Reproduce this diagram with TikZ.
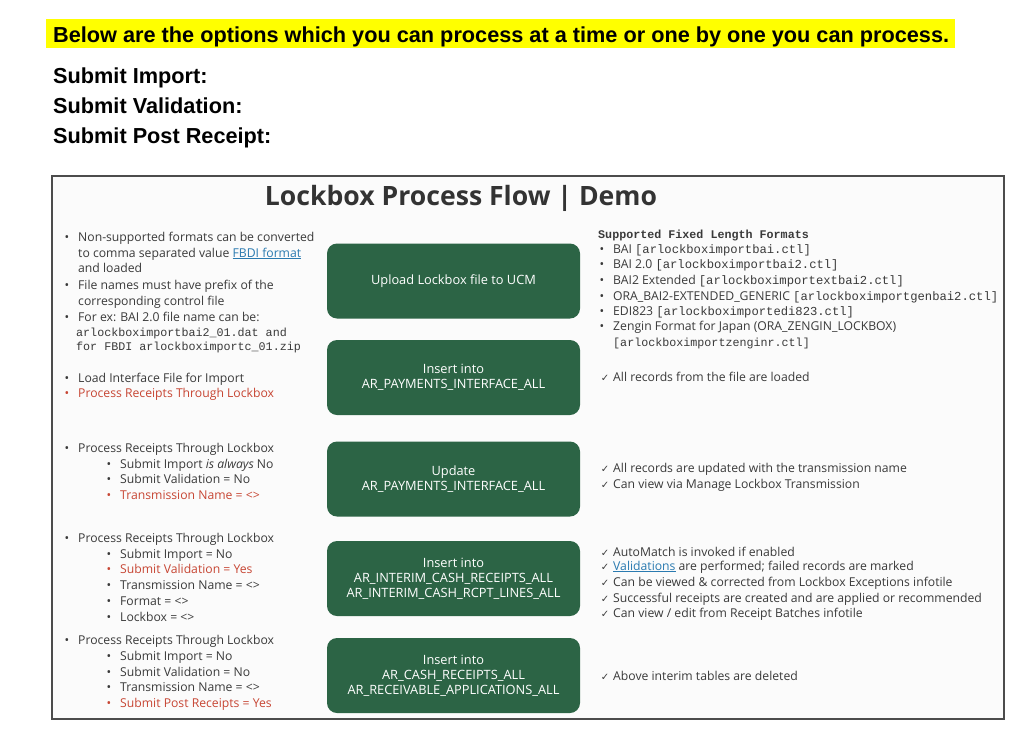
\documentclass[tikz,border=0pt]{standalone}
\usepackage{fontspec}
\setmainfont{Open Sans}
\setmonofont{Liberation Mono}
\newfontfamily\headfont{Liberation Sans}
\newfontfamily\symfont{DejaVu Sans}
\usetikzlibrary{positioning}

\definecolor{ink}{HTML}{3A3A3A}
\definecolor{oraRed}{HTML}{C74634}
\definecolor{boxGreen}{HTML}{2C6445}
\definecolor{linkBlue}{HTML}{2A7AB0}
\definecolor{hilite}{HTML}{FFFF00}
\definecolor{slideBg}{HTML}{FBFBFB}

\newcommand{\bul}{\llap{\textbullet\hspace{9pt}}}
\newcommand{\chk}{\llap{{\symfont\fontsize{10}{10}\selectfont ✓}\hspace{4pt}}}
\newcommand{\lnk}[1]{\textcolor{linkBlue}{\underline{#1}}}

\begin{document}
\begin{tikzpicture}[
  x=1pt, y=-1pt,
  txt/.style={anchor=base west, inner sep=0pt, text=ink, font=\fontsize{12.2}{14}\selectfont},
  red/.style={txt, text=oraRed},
  mono/.style={txt, font=\fontsize{11.7}{14}\selectfont\ttfamily},
  head/.style={anchor=base west, inner sep=0pt, text=black, font=\fontsize{21.7}{24}\selectfont\headfont\bfseries},
  stage/.style={fill=boxGreen, rounded corners=10pt, minimum width=253pt, minimum height=75pt,
    inner sep=0pt, text=white, align=center, font=\fontsize{12.8}{15}\selectfont}
]
  \useasboundingbox (0,0) rectangle (1024,736);

  % header above the slide
  \fill[hilite] (46,19) rectangle (955,48);
  \node[head] (intro) at (53,42) {Below are the options which you can process at a time or one by one you can process.};
  \node[head] (optImport) at (53,83) {Submit Import:};
  \node[head] (optValid) at (53,113) {Submit Validation:};
  \node[head] (optPost) at (53,143) {Submit Post Receipt:};

  % slide
  \draw[fill=slideBg, draw=black!70, line width=1.3pt] (52,176) rectangle (1004,719);
  \node[anchor=base, inner sep=0pt, text=black!80, font=\fontsize{26.6}{30}\selectfont\bfseries] (title) at (461,205) {Lockbox Process Flow | Demo};

  % process stages
  \node[stage] (upload) at (453.5,281) {Upload Lockbox file to UCM};
  \node[stage] (insertIf) at (453.5,377.5) {Insert into\\AR\_PAYMENTS\_INTERFACE\_ALL};
  \node[stage] (updateIf) at (453.5,479) {Update\\AR\_PAYMENTS\_INTERFACE\_ALL};
  \node[stage] (insertInt) at (453.5,578.5) {Insert into\\AR\_INTERIM\_CASH\_RECEIPTS\_ALL\\AR\_INTERIM\_CASH\_RCPT\_LINES\_ALL};
  \node[stage] (insertCash) at (453.5,675.5) {Insert into\\AR\_CASH\_RECEIPTS\_ALL\\AR\_RECEIVABLE\_APPLICATIONS\_ALL};

  % left column
  \node[txt] (g1a) at (78,241) {\bul Non-supported formats can be converted};
  \node[txt] (g1b) at (78,257) {to comma separated value \lnk{FBDI format}};
  \node[txt] (g1c) at (78,272) {and loaded};
  \node[txt] (g1d) at (78,289) {\bul File names must have prefix of the};
  \node[txt] (g1e) at (78,305) {corresponding control file};
  \node[txt] (g1f) at (78,321) {\bul For ex: BAI 2.0 file name can be:};
  \node[mono] (g1g) at (76,336) {arlockboximportbai2\_01.dat and};
  \node[mono] (g1h) at (76,350) {for FBDI arlockboximportc\_01.zip};

  \node[txt] (g2a) at (78,382) {\bul Load Interface File for Import};
  \node[red] (g2b) at (78,397) {\bul Process Receipts Through Lockbox};

  \node[txt] (g3a) at (78,452) {\bul Process Receipts Through Lockbox};
  \node[txt] (g3b) at (120,468) {\bul Submit Import \textit{is always} No};
  \node[txt] (g3c) at (120,483) {\bul Submit Validation = No};
  \node[red] (g3d) at (120,499) {\bul Transmission Name = <>};

  \node[txt] (g4a) at (78,542) {\bul Process Receipts Through Lockbox};
  \node[txt] (g4b) at (120,558) {\bul Submit Import = No};
  \node[red] (g4c) at (120,573) {\bul Submit Validation = Yes};
  \node[txt] (g4d) at (120,589) {\bul Transmission Name = <>};
  \node[txt] (g4e) at (120,605) {\bul Format = <>};
  \node[txt] (g4f) at (120,621) {\bul Lockbox = <>};

  \node[txt] (g5a) at (78,644) {\bul Process Receipts Through Lockbox};
  \node[txt] (g5b) at (120,660) {\bul Submit Import = No};
  \node[txt] (g5c) at (120,676) {\bul Submit Validation = No};
  \node[txt] (g5d) at (120,691) {\bul Transmission Name = <>};
  \node[red] (g5e) at (120,707) {\bul Submit Post Receipts = Yes};

  % right column
  \node[mono, font=\fontsize{11.7}{14}\selectfont\ttfamily\bfseries] (fmtHead) at (598,238) {Supported Fixed Length Formats};
  \node[txt] (fmtA) at (613,253) {\bul BAI \texttt{[arlockboximportbai.ctl]}};
  \node[txt] (fmtB) at (613,268) {\bul BAI 2.0 \texttt{[arlockboximportbai2.ctl]}};
  \node[txt] (fmtC) at (613,284) {\bul BAI2 Extended \texttt{[arlockboximportextbai2.ctl]}};
  \node[txt] (fmtD) at (613,300) {\bul ORA\_BAI2-EXTENDED\_GENERIC \texttt{[arlockboximportgenbai2.ctl]}};
  \node[txt] (fmtE) at (613,315) {\bul EDI823 \texttt{[arlockboximportedi823.ctl]}};
  \node[txt] (fmtF) at (613,330) {\bul Zengin Format for Japan (ORA\_ZENGIN\_LOCKBOX)};
  \node[mono] (fmtG) at (613,346) {[arlockboximportzenginr.ctl]};

  \node[txt] (okLoad) at (613,381) {\chk All records from the file are loaded};
  \node[txt] (okUpd) at (613,472) {\chk All records are updated with the transmission name};
  \node[txt] (okView) at (613,488) {\chk Can view via Manage Lockbox Transmission};
  \node[txt] (okAuto) at (613,556) {\chk AutoMatch is invoked if enabled};
  \node[txt] (okVal) at (613,570) {\chk \lnk{Validations} are performed; failed records are marked};
  \node[txt] (okExc) at (613,586) {\chk Can be viewed \& corrected from Lockbox Exceptions infotile};
  \node[txt] (okRcpt) at (613,602) {\chk Successful receipts are created and are applied or recommended};
  \node[txt] (okBatch) at (613,617) {\chk Can view / edit from Receipt Batches infotile};
  \node[txt] (okDel) at (613,680) {\chk Above interim tables are deleted};
\end{tikzpicture}
\end{document}
